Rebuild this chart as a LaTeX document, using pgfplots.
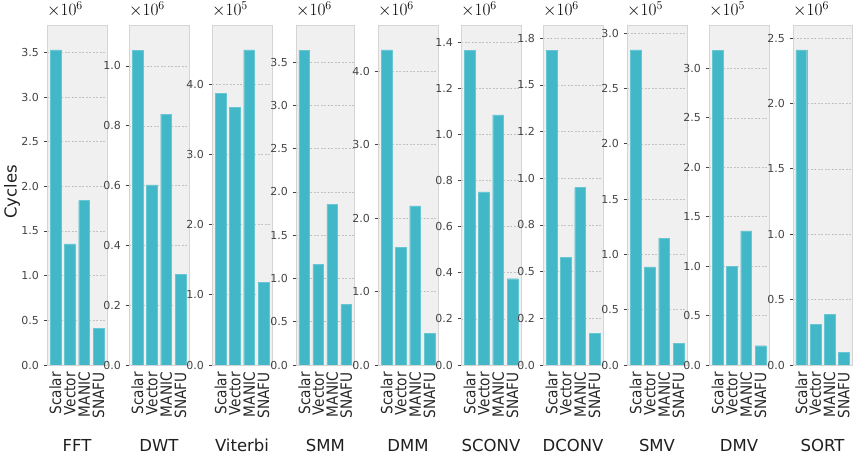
\documentclass[border=0pt]{standalone}
\usepackage{pgfplots}
\pgfplotsset{compat=1.18}
\usepackage{pgfplotstable}
\usepackage{fontspec}
\setmainfont{DejaVu Sans}
\newfontfamily\condfont{DejaVu Sans}[FakeStretch=0.88]
\definecolor{barc}{HTML}{42B7C7}
\definecolor{baredge}{HTML}{66C6D2}
\definecolor{bgc}{HTML}{F0F0F0}
\definecolor{framec}{HTML}{D4D4D4}
\definecolor{gridc}{HTML}{C2C2C2}
\definecolor{tickc}{HTML}{444444}

% values in units of the panel's scale (x10^6 or x10^5)
\pgfplotstableread{
x y
0 3.527
1 1.355
2 1.840
3 0.410
}\tFFT
\pgfplotstableread{
x y
0 1.053
1 0.602
2 0.839
3 0.302
}\tDWT
\pgfplotstableread{
x y
0 3.870
1 3.670
2 4.487
3 1.178
}\tVIT
\pgfplotstableread{
x y
0 3.640
1 1.164
2 1.858
3 0.700
}\tSMM
\pgfplotstableread{
x y
0 4.290
1 1.600
2 2.166
3 0.427
}\tDMM
\pgfplotstableread{
x y
0 1.365
1 0.750
2 1.084
3 0.374
}\tSCONV
\pgfplotstableread{
x y
0 1.687
1 0.577
2 0.950
3 0.171
}\tDCONV
\pgfplotstableread{
x y
0 2.848
1 0.886
2 1.146
3 0.193
}\tSMV
\pgfplotstableread{
x y
0 3.185
1 1.000
2 1.355
3 0.195
}\tDMV
\pgfplotstableread{
x y
0 2.410
1 0.309
2 0.385
3 0.097
}\tSORT

\pgfplotsset{panel/.style={
  anchor=south west, height=340pt, scale only axis,
  xmin=-0.59, xmax=3.59, ymin=0,
  xtick={0,1,2,3}, xticklabels={Scalar,Vector,MANIC,SNAFU},
  xticklabel style={rotate=90, anchor=east, inner sep=0pt,
    font=\condfont\fontsize{15.5}{15.5}\selectfont, text=black!85},
  xticklabel shift=7pt,
  yticklabel style={anchor=east, inner sep=0pt,
    font=\fontsize{11}{11}\selectfont, text=tickc},
  yticklabel shift=4.5pt,
  tick pos=left,
  tick align=outside, major tick length=3.5pt,
  xtick align=inside,
  tick style={draw=tickc, line width=0.8pt},
  axis background/.style={fill=bgc},
  axis line style={draw=framec, line width=0.8pt},
  ymajorgrids,
  grid style={draw=gridc, line width=0.5pt, dash pattern=on 2pt off 1.5pt},
  title style={at={(rel axis cs:0,1)}, anchor=south west, inner sep=0pt,
    yshift=1.5pt, font=\fontsize{17}{17}\selectfont},
  xlabel style={at={(rel axis cs:0.5,0)}, anchor=base, yshift=-86.5pt,
    inner sep=0pt, font=\fontsize{16.5}{16.5}\selectfont, text=black!88},
}}

\newcommand{\panel}[8]{%
\begin{axis}[panel, at={(#1pt,97pt)}, width=#2pt, ymax=#3,
  ytick={#4}, yticklabels={#5}, title={$\times10^{#6}$}, xlabel={#7}]
\addplot[ybar, bar width=0.76, fill=barc, draw=baredge, line width=0.4pt]
  table[x=x,y=y]{#8};
\end{axis}}

\begin{document}
\begin{tikzpicture}
\useasboundingbox (0,0) rectangle (858pt,462pt);
\begin{axis}[panel, at={(47pt,97pt)}, width=60pt, ymax=3.807,
  ytick={0,0.5,1,1.5,2,2.5,3,3.5},
  yticklabels={0.0,0.5,1.0,1.5,2.0,2.5,3.0,3.5},
  title={$\times10^{6}$}, xlabel={FFT},
  ylabel={Cycles},
  ylabel style={at={(rel axis cs:0,0.5)}, anchor=center, rotate=0,
    xshift=3pt, yshift=35pt,
    inner sep=0pt, font=\fontsize{16.5}{16.5}\selectfont, text=black!88}]
\addplot[ybar, bar width=0.76, fill=barc, draw=baredge, line width=0.4pt]
  table[x=x,y=y]{\tFFT};
\end{axis}
\panel{129}{60}{1.137}{0,0.2,0.4,0.6,0.8,1.0}{0.0,0.2,0.4,0.6,0.8,1.0}{6}{DWT}{\tDWT}
\panel{212}{60}{4.84}{0,1,2,3,4}{0.0,1.0,2.0,3.0,4.0}{5}{Viterbi}{\tVIT}
\panel{296}{58.5}{3.93}{0,0.5,1,1.5,2,2.5,3,3.5}{0.0,0.5,1.0,1.5,2.0,2.5,3.0,3.5}{6}{SMM}{\tSMM}
\panel{378}{60}{4.63}{0,1,2,3,4}{0.0,1.0,2.0,3.0,4.0}{6}{DMM}{\tDMM}
\panel{461}{60}{1.474}{0,0.2,0.4,0.6,0.8,1.0,1.2,1.4}{0.0,0.2,0.4,0.6,0.8,1.0,1.2,1.4}{6}{SCONV}{\tSCONV}
\panel{543}{60}{1.821}{0,0.25,0.5,0.75,1,1.25,1.5,1.75}{0.0,0.2,0.5,0.8,1.0,1.2,1.5,1.8}{6}{DCONV}{\tDCONV}
\panel{627}{60}{3.074}{0,0.5,1,1.5,2,2.5,3}{0.0,0.5,1.0,1.5,2.0,2.5,3.0}{5}{SMV}{\tSMV}
\panel{709}{60}{3.438}{0,0.5,1,1.5,2,2.5,3}{0.0,0.5,1.0,1.5,2.0,2.5,3.0}{5}{DMV}{\tDMV}
\panel{793}{59}{2.60}{0,0.5,1,1.5,2,2.5}{0.0,0.5,1.0,1.5,2.0,2.5}{6}{SORT}{\tSORT}
\end{tikzpicture}
\end{document}
